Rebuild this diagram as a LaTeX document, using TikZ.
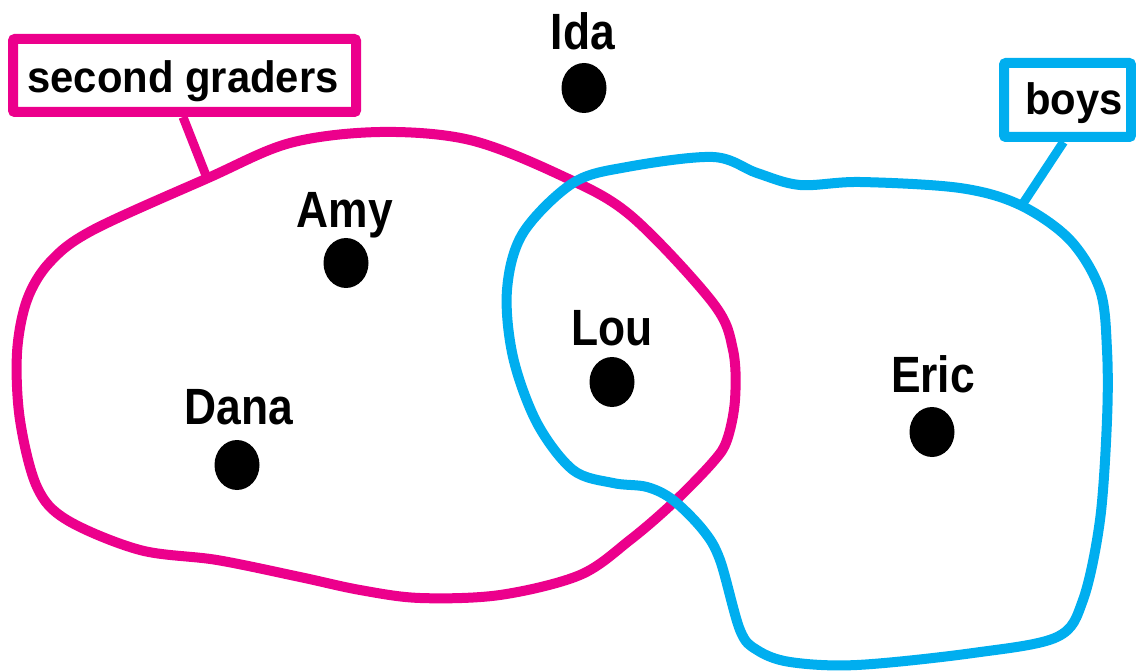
\documentclass[tikz,border=0pt]{standalone}
\usepackage{fontspec}
\setmainfont{Liberation Sans}
\newfontfamily\lblfont[FakeStretch=0.87]{Liberation Sans}
\newfontfamily\boxfont[FakeStretch=0.95]{Liberation Sans}
\usetikzlibrary{shapes.geometric}
\definecolor{pinkc}{HTML}{EC008C}
\definecolor{bluec}{HTML}{00AEEF}
\begin{document}
\begin{tikzpicture}[x=1pt,y=-1pt,
  dot/.style={ellipse,fill=black,minimum width=45pt,minimum height=50pt,inner sep=0pt},
  lbl/.style={anchor=base,inner sep=0pt,font=\lblfont\bfseries\fontsize{51}{51}\selectfont},
  boxlbl/.style={anchor=base,inner sep=0pt,font=\boxfont\bfseries\fontsize{44}{44}\selectfont},
  setline/.style={line width=10pt,line join=round}]
\useasboundingbox (0,0) rectangle (1136,671);
% pink set
\draw[setline,pinkc] plot[smooth cycle,tension=0.55] coordinates {
 (208,178) (290,143) (380,132) (470,140) (560,175) (630,215) (713,303)
 (733,350) (735,400) (727,440) (713,462) (673,503) (630,540) (580,575)
 (500,595) (420,598) (360,590) (300,577) (217,560) (140,550) (67,520)
 (37,487) (20,420) (17,353) (27,300) (50,262) (93,230)};
% blue set
\draw[setline,bluec] plot[smooth cycle,tension=0.55] coordinates {
 (1020,205) (1070,240) (1100,290) (1107,350) (1107,420) (1100,520)
 (1083,600) (1057,637) (973,653) (857,665) (790,662) (757,650) (740,630)
 (720,560) (703,530) (673,500) (647,487) (613,483) (573,470) (537,423)
 (513,357) (507,290) (523,233) (573,183) (627,167) (713,157) (757,173)
 (800,185) (860,182) (960,188)};
% callout boxes
\node[draw=pinkc,line width=10pt,rounded corners=2pt,fill=white,minimum width=343pt,minimum height=73pt,inner sep=0pt] (sgbox) at (184.5,75.5) {};
\node[boxlbl] (sgtxt) at (183,93) {second graders};
\node[draw=bluec,line width=10pt,rounded corners=2pt,fill=white,minimum width=127pt,minimum height=74pt,inner sep=0pt] (bbox) at (1067.5,100) {};
\node[boxlbl] (btxt) at (1074,115) {boys};
\coordinate (sgj) at (207,178);
\coordinate (bj) at (1022,205);
\draw[pinkc,line width=9pt] ([xshift=-1.5pt]sgbox.south) -- (sgj);
\draw[bluec,line width=9pt] ([xshift=-4pt]bbox.south) -- (bj);
% people
\node[dot] (ida) at (584,88) {};
\node[dot] (amy) at (346,263) {};
\node[dot] (lou) at (612,382) {};
\node[dot] (dana) at (237,465) {};
\node[dot] (eric) at (932,432) {};
\node[lbl] (idal) at (583,50) {Ida};
\node[lbl] (amyl) at (345,228) {Amy};
\node[lbl] (loul) at (612,345) {Lou};
\node[lbl] (danal) at (239,424) {Dana};
\node[lbl] (ericl) at (933,392) {Eric};
\end{tikzpicture}
\end{document}
